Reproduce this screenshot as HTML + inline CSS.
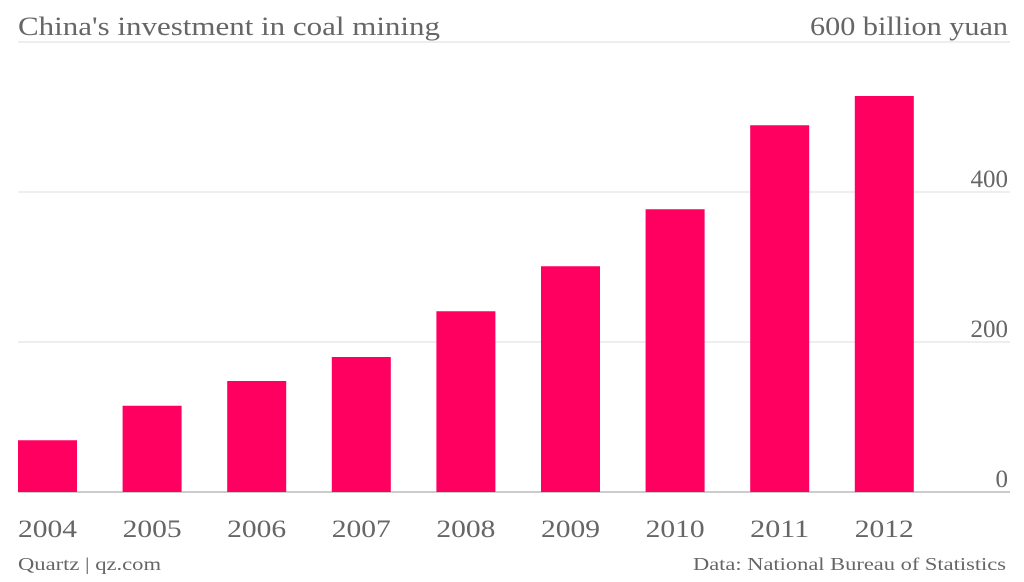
<!DOCTYPE html>
<html><head><meta charset="utf-8"><style>
body{margin:0;background:#fff;width:1024px;height:577px;overflow:hidden;font-family:"Liberation Serif",serif;}
svg text{font-family:"Liberation Serif",serif;fill:#666;}
</style></head><body>
<svg width="1024" height="577">
<text x="18" y="35" font-size="26" textLength="422" lengthAdjust="spacingAndGlyphs">China's investment in coal mining</text>
<text x="1008" y="35" font-size="26" text-anchor="end" textLength="198" lengthAdjust="spacingAndGlyphs">600 billion yuan</text>
<g id="grid"></g><g id="bars"></g><g id="xl"></g>
<text x="18" y="570" font-size="18" fill="#888" textLength="143" lengthAdjust="spacingAndGlyphs">Quartz | qz.com</text>
<text x="1006" y="570" font-size="18" text-anchor="end" textLength="313" lengthAdjust="spacingAndGlyphs">Data: National Bureau of Statistics</text>
</svg>
<script>
const categories=["2004","2005","2006","2007","2008","2009","2010","2011","2012"];
const values=[69,115,148,180,241,301,377,489,528];
const ticks=[0,200,400,600];
const ns="http://www.w3.org/2000/svg";
const y=v=>492-v*0.75;
const x=i=>18+i*104.6;
function mk(t,a,p){const e=document.createElementNS(ns,t);for(const k in a)e.setAttribute(k,a[k]);p.appendChild(e);return e;}
const g=document.getElementById('grid');
ticks.forEach(t=>{
 const l=mk('line',{x1:18,x2:1010,y1:y(t),y2:y(t),stroke:t==0?'#999':'#ddd','stroke-width':1},g);
 
 
 if(t<600){const tx=mk('text',{x:1008,y:y(t)-5,'font-size':25,'text-anchor':'end'},g);tx.textContent=t;
 
 }
});
const b=document.getElementById('bars'),xl=document.getElementById('xl');
values.forEach((v,i)=>{
 const r=mk('rect',{x:x(i),y:y(v),width:59,height:492-y(v),fill:'#ff0060'},b);
 
 
 const t=mk('text',{x:x(i)+29.5,y:537,'font-size':25,'text-anchor':'middle',textLength:59,lengthAdjust:'spacingAndGlyphs'},xl);t.textContent=categories[i];
 
 
});
</script>
</body></html>
